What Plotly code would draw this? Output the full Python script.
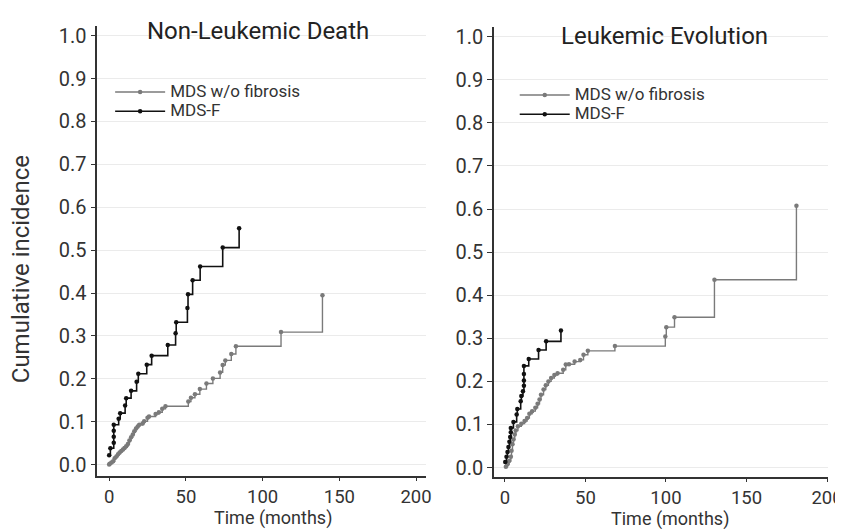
import plotly.graph_objects as go

# ---------------- data ----------------
series_names = ["MDS w/o fibrosis", "MDS-F"]
panel_titles = ["Non-Leukemic Death", "Leukemic Evolution"]
x_ticks = [0, 50, 100, 150, 200]

# Non-leukemic death
nld_t_nofib = [0, 0.4, 1.5, 2.6, 3.6, 4.7, 5.8, 6.8, 7.9, 9.0, 10.0, 11.1, 12.2, 13.2, 14.3,
               15.4, 16.4, 17.5, 18.6, 19.6, 21.8, 22.8, 25, 26, 30.3, 32.4, 34.6, 36.7,
               51.6, 53.3, 55.9, 59.1, 63.4, 67.6, 72.3, 74, 75.7, 79.6, 82.6, 112, 139]
nld_ci_nofib = [0.000, 0.002, 0.005, 0.008, 0.015, 0.019, 0.024, 0.028, 0.032, 0.035, 0.039,
                0.043, 0.048, 0.056, 0.064, 0.070, 0.078, 0.084, 0.089, 0.093, 0.096, 0.101,
                0.109, 0.112, 0.118, 0.122, 0.130, 0.136, 0.147, 0.156, 0.164, 0.176, 0.189,
                0.201, 0.215, 0.232, 0.243, 0.258, 0.276, 0.309, 0.395]
nld_t_mdsf = [0, 0.8, 3, 3, 3, 3, 6.2, 7.2, 10.4, 11.1, 14.3, 17.9, 19, 24.5, 27.7, 38.2,
              43.3, 43.7, 51, 51.4, 54.4, 59.3, 74, 84.7]
nld_ci_mdsf = [0.022, 0.038, 0.051, 0.065, 0.079, 0.093, 0.107, 0.120, 0.138, 0.155, 0.172,
               0.193, 0.212, 0.233, 0.254, 0.279, 0.306, 0.332, 0.365, 0.397, 0.430, 0.462,
               0.506, 0.551]

# Leukemic evolution
le_t_nofib = [0.6, 1.6, 2.6, 3.7, 4.1, 4.7, 5.3, 6.1, 6.7, 8.1, 10.2, 12.2, 13.8, 15.2, 16.9,
              18.9, 20.3, 21.5, 22.4, 24, 25.4, 27, 28.7, 30.7, 32.7, 36.2, 37.8, 39.8, 43.3,
              46.8, 48.8, 51.5, 68.3, 99.6, 100.2, 105.3, 130.1, 181]
le_ci_nofib = [0.002, 0.008, 0.015, 0.025, 0.039, 0.054, 0.065, 0.077, 0.086, 0.096, 0.102,
               0.108, 0.115, 0.125, 0.131, 0.139, 0.148, 0.158, 0.169, 0.181, 0.191, 0.200,
               0.208, 0.215, 0.219, 0.227, 0.239, 0.240, 0.246, 0.250, 0.262, 0.271, 0.282,
               0.304, 0.326, 0.349, 0.436, 0.608]
le_t_mdsf = [0.2, 1.0, 1.6, 2.2, 2.8, 3.3, 3.7, 3.7, 5.3, 7.3, 7.7, 9.8, 10.2, 11.2, 11.8,
             11.8, 11.8, 11.8, 14.8, 20.9, 25.6, 34.8]
le_ci_mdsf = [0.013, 0.025, 0.036, 0.048, 0.060, 0.071, 0.082, 0.092, 0.106, 0.123, 0.136,
              0.154, 0.166, 0.177, 0.190, 0.202, 0.217, 0.236, 0.252, 0.273, 0.293, 0.318]

# ---------------- styling ----------------
PAGE_W, PAGE_H = 843, 529
OFF = 8                       # default page margin around the plot div
W, H = PAGE_W - OFF, PAGE_H - OFF
FONT = "Roboto, Liberation Sans, Arial, sans-serif"
TXT = "#333333"
GREY = "#7a7a7a"
BLACK = "#111111"

def px_x(p):                  # page pixel -> paper fraction
    return (p - OFF) / W

def px_y(p):
    return 1 - (p - OFF) / H

def leg_label(s):
    return '<span style="font-size:17px">' + s + '</span>'

fig = go.Figure()

def add_series(t, ci, name, color, width, xa, ya, legend):
    fig.add_trace(go.Scatter(
        x=t, y=ci, name=leg_label(name), mode="lines+markers",
        line=dict(color=color, width=width, shape="hv"),
        marker=dict(color=color, size=4.5, symbol="circle"),
        xaxis=xa, yaxis=ya, legend=legend,
    ))

add_series(nld_t_nofib, nld_ci_nofib, series_names[0], GREY, 1.4, "x", "y", "legend")
add_series(nld_t_mdsf, nld_ci_mdsf, series_names[1], BLACK, 1.6, "x", "y", "legend")
add_series(le_t_nofib, le_ci_nofib, series_names[0], GREY, 1.4, "x2", "y2", "legend2")
add_series(le_t_mdsf, le_ci_mdsf, series_names[1], BLACK, 1.6, "x2", "y2", "legend2")

xcommon = dict(tickvals=x_ticks, showline=True, linecolor="#333333", linewidth=1.5,
               ticks="outside", ticklen=3, tickcolor="#333333", showgrid=False,
               zeroline=False, ticklabeloverflow="allow",
               tickfont=dict(family=FONT, size=18.5, color=TXT))
ycommon = dict(dtick=0.1, tick0=0, tickformat=".1f", showline=True, linecolor="#333333",
               linewidth=1.5, ticks="outside", ticklen=5, tickcolor="#333333",
               showgrid=True, gridcolor="#ebebeb", gridwidth=1, zeroline=False,
               tickfont=dict(family=FONT, size=20, color=TXT))

legcommon = dict(font=dict(family=FONT, size=12.5, color=TXT), bgcolor="rgba(0,0,0,0)",
                 borderwidth=0, xanchor="left", yanchor="top", itemwidth=50,
                 tracegroupgap=0)

fig.update_layout(
    width=W, height=H,
    margin=dict(l=0, r=0, t=0, b=0),
    paper_bgcolor="white", plot_bgcolor="white",
    xaxis=dict(domain=[px_x(99), px_x(434)], range=[-7.68, 206.7], anchor="y", **xcommon),
    yaxis=dict(domain=[px_y(479), px_y(24)], range=[-0.0277, 1.023], anchor="x", **ycommon),
    xaxis2=dict(domain=[px_x(503), px_x(843)], range=[-6.7, 200.6], anchor="y2", **xcommon),
    yaxis2=dict(domain=[px_y(479.5), px_y(25)], range=[-0.0218, 1.023], anchor="x2", **ycommon),
    legend=dict(x=px_x(112), y=px_y(76), **legcommon),
    legend2=dict(x=px_x(524), y=px_y(79), **legcommon),
    showlegend=True,
)

annotations = [
    dict(text=panel_titles[0], x=px_x(263), y=px_y(29), xref="paper", yref="paper",
         showarrow=False, xanchor="center", yanchor="middle",
         font=dict(family=FONT, size=24, color="#222222")),
    dict(text=panel_titles[1], x=px_x(676), y=px_y(34), xref="paper", yref="paper",
         showarrow=False, xanchor="center", yanchor="middle",
         font=dict(family=FONT, size=24, color="#222222")),
    dict(text="Cumulative incidence", x=px_x(22), y=px_y(270), xref="paper", yref="paper",
         showarrow=False, textangle=-90, xanchor="center", yanchor="middle",
         font=dict(family=FONT, size=24, color=TXT)),
    dict(text="Time (months)", x=px_x(278), y=px_y(520.5), xref="paper", yref="paper",
         showarrow=False, xanchor="center", yanchor="middle",
         font=dict(family=FONT, size=18, color=TXT)),
    dict(text="Time (months)", x=px_x(682), y=px_y(521.5), xref="paper", yref="paper",
         showarrow=False, xanchor="center", yanchor="middle",
         font=dict(family=FONT, size=18, color=TXT)),
]
fig.update_layout(annotations=annotations)

fig.write_html("out.html")
